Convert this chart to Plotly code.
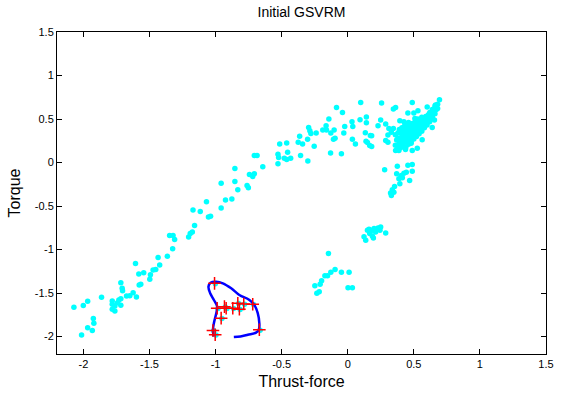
import plotly.graph_objects as go

# Training samples (thrust-force, torque)
lower_left = [
    (-1.435, -1.090), (-1.606, -1.159), (-1.544, -1.267), (-1.581, -1.281), (-1.473, -1.236),
    (-1.453, -1.228), (-1.423, -1.178), (-1.493, -1.289), (-1.498, -1.342), (-1.566, -1.399),
    (-1.578, -1.407), (-1.717, -1.381), (-1.707, -1.445), (-1.704, -1.473), (-1.624, -1.495),
    (-1.649, -1.530), (-1.599, -1.545), (-1.674, -1.533), (-1.717, -1.564), (-1.732, -1.579),
    (-1.782, -1.590), (-1.742, -1.610), (-1.782, -1.628), (-1.717, -1.640), (-1.762, -1.648),
    (-1.782, -1.685), (-1.762, -1.705), (-1.863, -1.548), (-1.968, -1.594), (-2.001, -1.644),
    (-2.072, -1.662), (-1.925, -1.793), (-1.921, -1.846), (-1.968, -1.899), (-1.933, -1.930),
    (-2.014, -1.983),
]
middle_rise = [
    (-0.707, 0.080), (-0.686, 0.080), (-0.854, -0.069), (-0.744, -0.137), (-0.707, -0.129),
    (-0.719, -0.160), (-0.958, -0.237), (-0.854, -0.217), (-0.762, -0.263), (-0.752, -0.289),
    (-0.832, -0.312), (-1.069, -0.450), (-0.925, -0.431), (-0.877, -0.420), (-1.171, -0.546),
    (-1.116, -0.564), (-0.958, -0.523), (-1.054, -0.626), (-1.038, -0.618), (-1.159, -0.724),
    (-1.176, -0.797), (-1.192, -0.816), (-1.204, -0.855), (-1.348, -0.839), (-1.322, -0.839),
    (-1.310, -0.884), (-1.325, -0.992), (-1.365, -1.076),
]
upper_arc = [
    (-0.085, 0.633), (0.098, 0.690), (-0.040, 0.576), (-0.143, 0.500), (0.032, 0.469),
    (0.093, 0.492), (0.141, 0.523), (0.141, 0.458), (-0.023, 0.415), (0.038, 0.415),
    (-0.296, 0.404), (-0.164, 0.423), (-0.189, 0.374), (-0.161, 0.374), (-0.103, 0.374),
    (-0.128, 0.340), (-0.287, 0.366), (-0.279, 0.335), (-0.239, 0.340), (-0.030, 0.340),
    (0.133, 0.343), (0.171, 0.312), (-0.364, 0.301), (-0.304, 0.267), (-0.108, 0.267),
    (-0.096, 0.278), (0.035, 0.267), (-0.375, 0.232), (-0.342, 0.214), (-0.462, 0.225),
    (-0.515, 0.214), (0.138, 0.244), (0.149, 0.229), (0.058, 0.214), (-0.254, 0.187),
    (0.166, 0.195), (-0.455, 0.118), (-0.528, 0.095), (-0.523, 0.057), (-0.480, 0.049),
    (-0.462, 0.034), (-0.432, 0.049), (-0.357, 0.080), (-0.130, 0.111), (-0.048, 0.100),
    (-0.302, 0.019), (-0.528, -0.015), (-0.643, -0.049),
]
cluster_edge = [
    (0.694, 0.721), (0.488, 0.690), (0.256, 0.683), (0.362, 0.633), (0.345, 0.614),
    (0.601, 0.637), (0.664, 0.660), (0.651, 0.614), (0.455, 0.569), (0.500, 0.569),
    (0.621, 0.576), (0.508, 0.507), (0.249, 0.489), (0.394, 0.481), (0.425, 0.469),
    (0.287, 0.443), (0.229, 0.423), (0.639, 0.404), (0.656, 0.489), (0.311, 0.392),
    (0.345, 0.392), (0.330, 0.347), (0.304, 0.317), (0.181, 0.309), (0.287, 0.252),
    (0.304, 0.232), (0.563, 0.263), (0.480, 0.221), (0.526, 0.164), (0.362, 0.137),
    (0.387, 0.137), (0.488, 0.137), (0.437, 0.149), (0.181, 0.183), (0.531, 0.595),
]
cluster_core = [
    (0.36, 0.20), (0.37, 0.26), (0.36, 0.32),
    (0.38, 0.18), (0.39, 0.23), (0.38, 0.28), (0.38, 0.34), (0.39, 0.38),
    (0.40, 0.17), (0.41, 0.22), (0.40, 0.27), (0.41, 0.31), (0.40, 0.36), (0.41, 0.40),
    (0.42, 0.19), (0.43, 0.24), (0.42, 0.29), (0.43, 0.33), (0.42, 0.38), (0.43, 0.42),
    (0.44, 0.18), (0.45, 0.23), (0.44, 0.27), (0.45, 0.31), (0.44, 0.35), (0.45, 0.40), (0.44, 0.44),
    (0.46, 0.21), (0.47, 0.26), (0.46, 0.30), (0.47, 0.34), (0.46, 0.38), (0.47, 0.42), (0.46, 0.46),
    (0.48, 0.24), (0.49, 0.29), (0.48, 0.33), (0.49, 0.37), (0.48, 0.41), (0.49, 0.45),
    (0.50, 0.27), (0.51, 0.31), (0.50, 0.35), (0.51, 0.39), (0.50, 0.43), (0.51, 0.47),
    (0.52, 0.30), (0.53, 0.34), (0.52, 0.38), (0.53, 0.42), (0.52, 0.46), (0.53, 0.50),
    (0.54, 0.33), (0.55, 0.37), (0.54, 0.41), (0.55, 0.45), (0.54, 0.49),
    (0.56, 0.36), (0.57, 0.40), (0.56, 0.44), (0.57, 0.48), (0.56, 0.52),
    (0.58, 0.40), (0.59, 0.44), (0.58, 0.48), (0.59, 0.53),
    (0.60, 0.43), (0.61, 0.47), (0.60, 0.51), (0.61, 0.55),
    (0.62, 0.47), (0.63, 0.51), (0.62, 0.56),
    (0.64, 0.52), (0.65, 0.57), (0.64, 0.61),
    (0.66, 0.56), (0.67, 0.61), (0.66, 0.65),
    (0.68, 0.62), (0.68, 0.67),
]
lower_tail = [
    (0.279, -0.084), (0.375, -0.042), (0.455, -0.031), (0.488, -0.023), (0.488, -0.099),
    (0.370, -0.129), (0.425, -0.122), (0.443, -0.111), (0.405, -0.149), (0.387, -0.187),
    (0.413, -0.175), (0.468, -0.206), (0.394, -0.244), (0.354, -0.275), (0.337, -0.312),
    (0.349, -0.340), (0.324, -0.351), (0.330, -0.378),
]
low_group = [
    (-0.146, -1.045), (-0.249, -1.415), (-0.234, -1.502), (-0.216, -1.484), (-0.209, -1.399),
    (-0.198, -1.358), (-0.173, -1.301), (-0.153, -1.301), (-0.128, -1.262), (-0.096, -1.228),
    (-0.048, -1.262), (0.010, -1.262), (0.002, -1.438), (0.035, -1.438),
    (0.136, -0.892), (0.123, -0.854), (0.149, -0.778), (0.161, -0.767), (0.186, -0.778),
    (0.199, -0.759), (0.211, -0.797), (0.186, -0.843), (0.194, -0.866), (0.229, -0.752),
    (0.249, -0.740), (0.244, -0.778), (0.166, -0.816), (0.287, -0.809),
]
# Support vectors (also samples themselves)
support_vectors = [
    (-1.008, -1.388), (-0.988, -1.674), (-0.933, -1.656), (-0.920, -1.674), (-0.870, -1.674),
    (-0.832, -1.617), (-0.820, -1.686), (-0.787, -1.625), (-0.719, -1.628), (-0.958, -1.788),
    (-1.020, -1.930), (-1.003, -1.979), (-0.669, -1.922),
]
# Decision boundary contour
boundary = [
    (-0.862, -2.006), (-0.812, -1.999), (-0.756, -1.979), (-0.694, -1.955), (-0.672, -1.915),
    (-0.669, -1.846), (-0.681, -1.731), (-0.707, -1.636), (-0.744, -1.579), (-0.820, -1.522),
    (-0.882, -1.445), (-0.945, -1.388), (-0.995, -1.370), (-1.038, -1.381), (-1.054, -1.427),
    (-1.041, -1.502), (-1.013, -1.579), (-0.988, -1.656), (-0.995, -1.731), (-1.013, -1.846),
    (-1.020, -1.922), (-1.015, -1.999),
]

x_ticks = [-2, -1.5, -1, -0.5, 0, 0.5, 1, 1.5]
y_ticks = [-2, -1.5, -1, -0.5, 0, 0.5, 1, 1.5]
tick_labels = ["-2", "-1.5", "-1", "-0.5", "0", "0.5", "1", "1.5"]

samples = lower_left + middle_rise + upper_arc + cluster_edge + cluster_core + lower_tail + low_group
sv_samples = [(x + 0.006, y - 0.004) for x, y in support_vectors]
samples = samples + sv_samples

FONT = "Liberation Sans, Arial, sans-serif"

fig = go.Figure()
fig.add_trace(go.Scatter(
    x=[p[0] for p in samples], y=[p[1] for p in samples],
    mode="markers", marker=dict(color="#00FFFF", size=5.5, line=dict(width=0)),
    hoverinfo="skip",
))
fig.add_trace(go.Scatter(
    x=[p[0] for p in boundary], y=[p[1] for p in boundary],
    mode="lines", line=dict(color="#0000FF", width=2.5, shape="spline", smoothing=1.0),
    hoverinfo="skip",
))
fig.add_trace(go.Scatter(
    x=[p[0] for p in support_vectors], y=[p[1] for p in support_vectors],
    mode="markers",
    marker=dict(symbol="cross-thin", size=9, line=dict(color="#FF0000", width=1.5)),
    hoverinfo="skip",
))

axis_common = dict(
    showgrid=False, zeroline=False, showline=True, linecolor="black", linewidth=1,
    mirror="ticks", ticks="inside", ticklen=5, tickcolor="black", tickwidth=1,
    tickfont=dict(family=FONT, size=11, color="black"),
)
fig.update_layout(
    width=579, height=398,
    margin=dict(l=57, r=33, t=32, b=44),
    paper_bgcolor="white", plot_bgcolor="white",
    showlegend=False,
    title=dict(text="Initial GSVRM", x=0.5, xref="paper", xanchor="center",
               y=1 - 12 / 398, yref="container", yanchor="middle",
               font=dict(family=FONT, size=14, color="black")),
    xaxis=dict(range=[-2.2, 1.5], tickvals=x_ticks, ticktext=tick_labels,
               title=dict(text="Thrust-force", standoff=6,
                          font=dict(family=FONT, size=16, color="black")),
               **axis_common),
    yaxis=dict(range=[-2.2, 1.5], tickvals=y_ticks, ticktext=tick_labels,
               title=dict(text="Torque", standoff=10,
                          font=dict(family=FONT, size=16, color="black")),
               **axis_common),
)

fig.write_html("out.html")
